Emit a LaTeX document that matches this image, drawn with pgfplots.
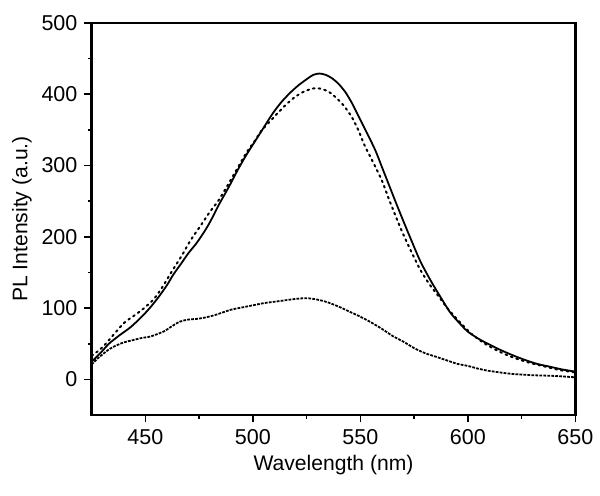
\documentclass[border=0pt]{standalone}
\usepackage{pgfplots}
\pgfplotsset{compat=1.18}
\usepackage{fontspec}
\setmainfont{Liberation Sans}

\begin{document}
\begin{tikzpicture}
\begin{axis}[
  scale only axis,
  width=243pt, height=197pt,
  xmin=425, xmax=650, ymin=-50, ymax=500,
  xtick={450,500,...,650}, ytick={0,100,...,500},
  minor x tick num=1, minor y tick num=1,
  xtick pos=bottom, ytick pos=left,
  tick align=outside,
  major tick length=3.6pt, minor tick length=2pt,
  tick style={black, line width=0.8pt},
  axis line style={line width=1.1pt},
  tick label style={font=\fontsize{10.8}{13}\selectfont},
  label style={font=\fontsize{10.6}{13}\selectfont},
  /pgf/number format/assume math mode=true,
  /pgf/number format/1000 sep={},
  xlabel={Wavelength (nm)},
  ylabel={PL Intensity (a.u.)},
  xlabel style={at={(rel axis cs:0.5,-0.128)}, anchor=center},
  ylabel style={at={(rel axis cs:-0.144,0.5)}, anchor=center},
  every axis plot/.append style={black, line width=0.9pt, smooth, tension=0.5},
]
% solid
\addplot[solid, line join=round] coordinates {
(425,25)(430,40)(433,50)(438,62)(443,73)(448,87)(452,100)(456,115)(460,132)
(463,147)(467,164)(470,177)(474,192)(478,210)(481,226)(484,244)(489,271)
(493,294)(497,315)(501,334)(505,353)(509,372)(513,388)(517,401)(521,412)
(525,421)(528,427)(531,429)(534,427)(537,422)(540,414)(543,403)(546,388)
(549,370)(553,346)(557,321)(560,298)(563,275)(566,252)(570,222)(574,193)
(578,165)(583,137)(588,112)(592,93)(597,76)(600,67)(605,57)(610,49)
(614,43)(620,35)(626,28)(632,22)(638,18)(644,14)(650,11)};
% dotted
\addplot[dotted, line cap=round, line width=1pt] coordinates {
(425,33)(430,45)(435,62)(440,79)(445,90)(449,99)(454,113)(458,130)(462,150)
(467,174)(471,195)(476,217)(480,235)(484,251)(489,276)(493,297)(497,318)
(501,335)(504,349)(508,362)(512,375)(516,387)(520,397)(524,404)(528,408)
(531,408)(535,404)(538,397)(542,385)(546,368)(549,350)(552,328)(556,304)
(560,279)(563,255)(566,232)(569,210)(572,190)(575,171)(578,153)(582,134)
(586,118)(591,98)(597,78)(602,63)(608,50)(614,40)(620,32)(628,24)(636,18)
(643,13)(650,10)};
% short dashes
\addplot[dash pattern=on 1.4pt off 0.6pt] coordinates {
(425,21)(428,30)(433,42)(436,47)(440,52)(444,55)(448,58)(452,60)(455,63)
(459,68)(462,74)(466,81)(470,84)(474,85)(478,87)(482,90)(486,94)(490,98)
(495,101)(500,104)(505,107)(510,109)(515,111)(520,113)(525,114)(530,112)
(535,108)(540,102)(545,95)(550,88)(555,80)(560,71)(565,61)(570,53)(575,44)
(580,37)(585,32)(590,27)(595,22)(600,19)(605,15)(610,12)(620,8)(630,6)
(640,5)(650,3)};
\coordinate (bbl) at (rel axis cs:-0.1893,-0.2056);
\coordinate (btr) at (rel axis cs:1.0453,1.0584);
\end{axis}
\path[use as bounding box] (bbl) rectangle (btr);
\end{tikzpicture}
\end{document}
